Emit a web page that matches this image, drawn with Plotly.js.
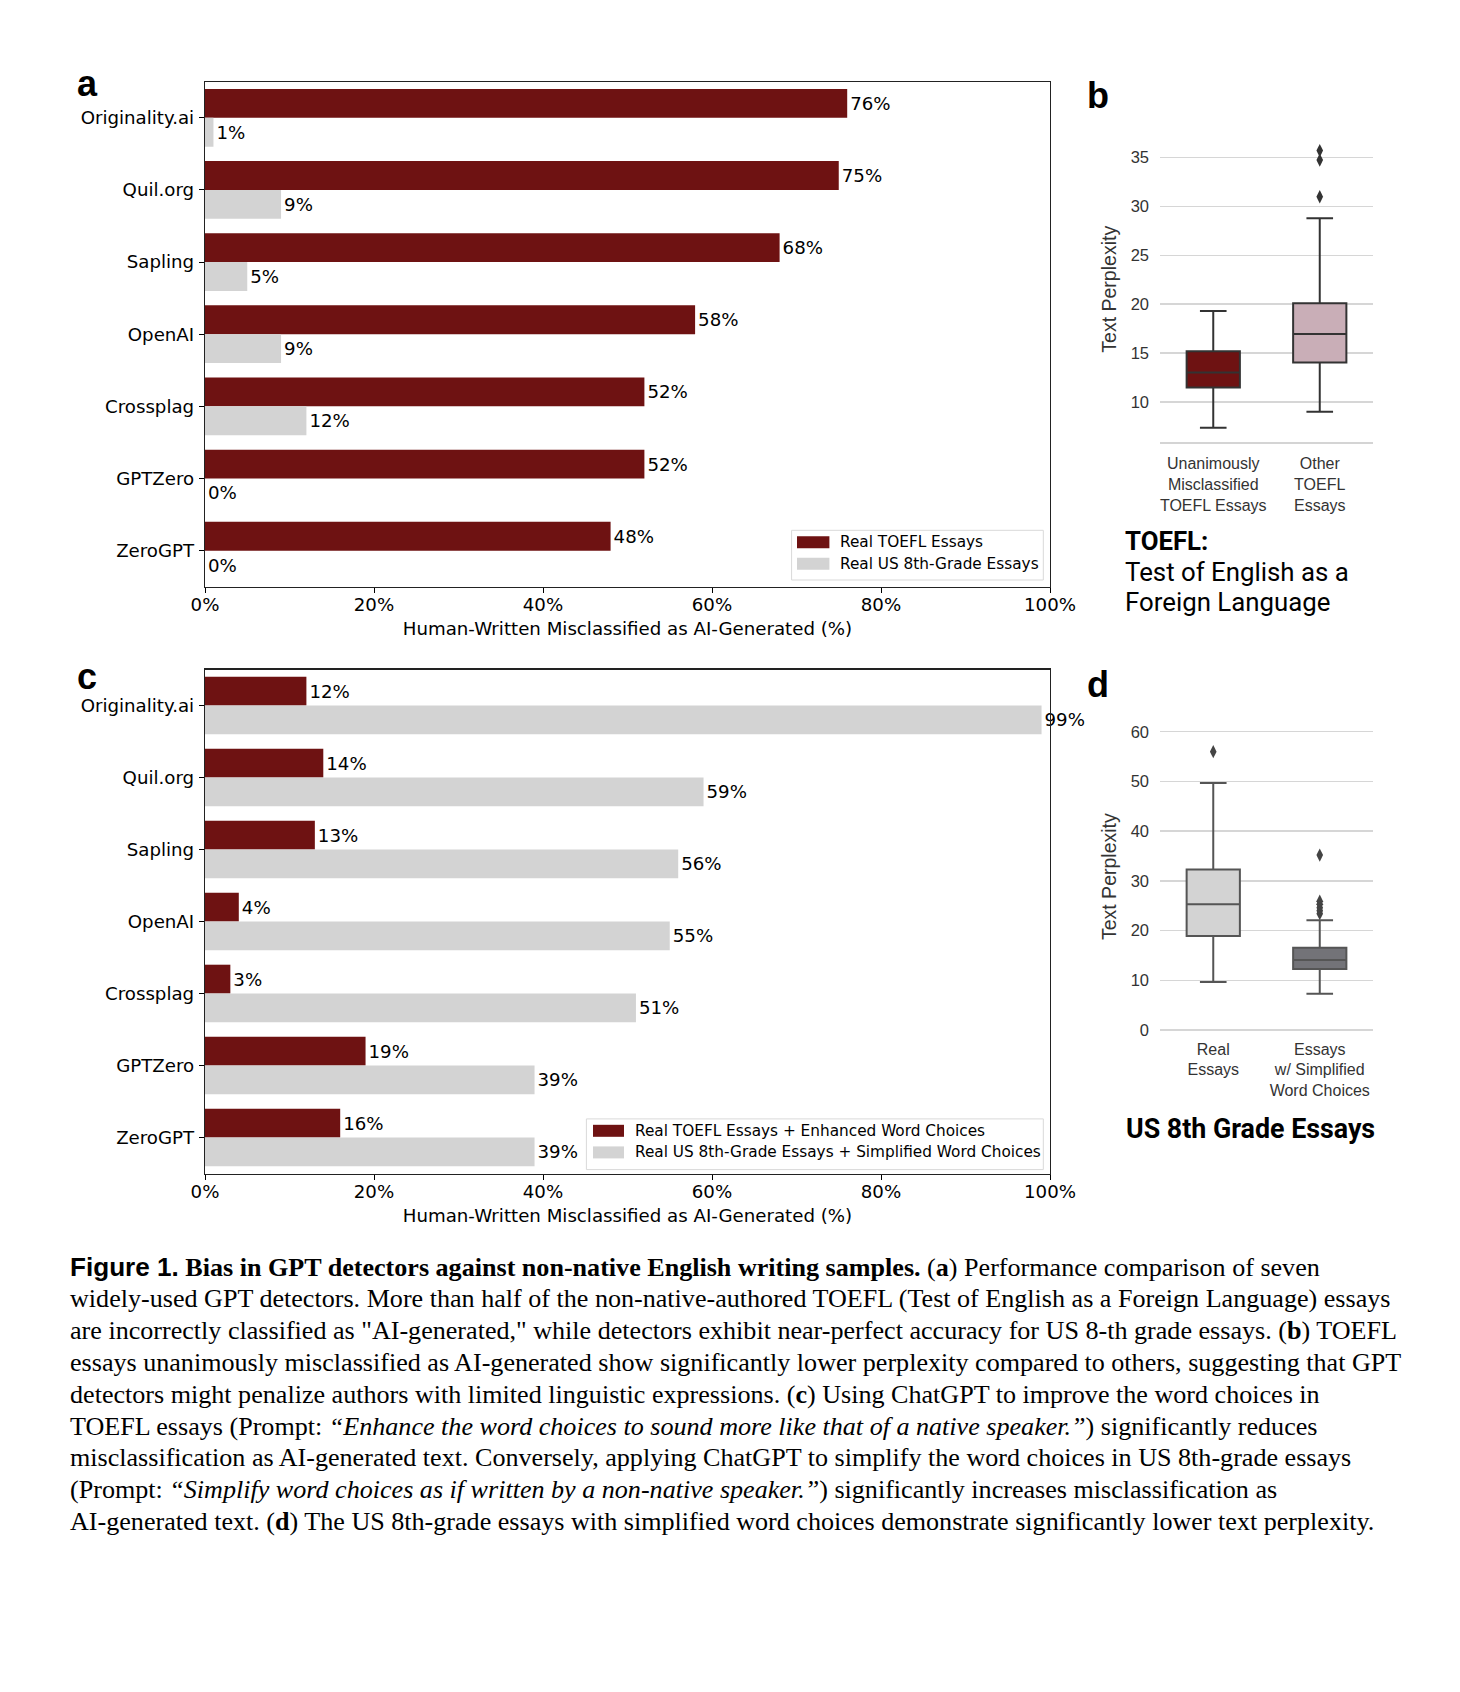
<!DOCTYPE html>
<html><head><meta charset="utf-8">
<script src="https://cdn.plot.ly/plotly-3.0.1.min.js"></script>
<style>html,body{margin:0;padding:0;background:#fff}#chart{width:1460px;height:1692px}</style>
</head><body><div id="chart"></div>
<script>
// ---------------- data ----------------
const detectors = ["Originality.ai","Quil.org","Sapling","OpenAI","Crossplag","GPTZero","ZeroGPT"];
const seriesA = ["Real TOEFL Essays","Real US 8th-Grade Essays"];
const toeflReal = [76,75,68,58,52,52,48];
const us8Real = [1,9,5,9,12,0,0];
const seriesC = ["Real TOEFL Essays + Enhanced Word Choices","Real US 8th-Grade Essays + Simplified Word Choices"];
const toeflEnhanced = [12,14,13,4,3,19,16];
const us8Simplified = [99,59,56,55,51,39,39];
const pctTicks = [0,20,40,60,80,100];
const pctTickText = ["0%","20%","40%","60%","80%","100%"];
const xTitle = "Human-Written Misclassified as AI-Generated (%)";

const boxBCats = ["Unanimously<br>Misclassified<br>TOEFL Essays","Other<br>TOEFL<br>Essays"];
const boxBQ1 = [11.46, 14.02];
const boxBMedian = [12.99, 16.93];
const boxBQ3 = [15.18, 20.10];
const boxBLow = [7.34, 8.98];
const boxBHigh = [19.31, 28.80];
const boxBOutliersOther = [31.0, 34.75, 35.73];
const boxBTicks = [10,15,20,25,30,35];

const boxDCats = ["Real<br>Essays","Essays<br>w/ Simplified<br>Word Choices"];
const boxDQ1 = [18.9, 12.27];
const boxDMedian = [25.3, 14.08];
const boxDQ3 = [32.3, 16.55];
const boxDLow = [9.65, 7.3];
const boxDHigh = [49.7, 22.1];
const boxDOutliersReal = [56.0];
const boxDOutliersSimplified = [23.4, 24.0, 24.6, 25.3, 25.9, 35.2];
const boxDTicks = [0,10,20,30,40,50,60];
const yTitleBox = "Text Perplexity";

const toeflNote = ["<b>TOEFL:</b>","Test of English as a","Foreign Language"];
const usTitle = "<b>US 8th Grade Essays</b>";
const panelLetters = ["a","b","c","d"];
const captionLines = [
 '<b><span style="font-family:\'Liberation Sans\',Arial,sans-serif">Figure 1.</span> Bias in GPT detectors against non-native English writing samples.</b> (<b>a</b>) Performance comparison of seven',
 'widely-used GPT detectors. More than half of the non-native-authored TOEFL (Test of English as a Foreign Language) essays',
 'are incorrectly classified as "AI-generated," while detectors exhibit near-perfect accuracy for US 8-th grade essays. (<b>b</b>) TOEFL',
 'essays unanimously misclassified as AI-generated show significantly lower perplexity compared to others, suggesting that GPT',
 'detectors might penalize authors with limited linguistic expressions. (<b>c</b>) Using ChatGPT to improve the word choices in',
 'TOEFL essays (Prompt: <i>“Enhance the word choices to sound more like that of a native speaker.”</i>) significantly reduces',
 'misclassification as AI-generated text. Conversely, applying ChatGPT to simplify the word choices in US 8th-grade essays',
 '(Prompt: <i>“Simplify word choices as if written by a non-native speaker.”</i>) significantly increases misclassification as',
 'AI-generated text. (<b>d</b>) The US 8th-grade essays with simplified word choices demonstrate significantly lower text perplexity.'
];

// ---------------- styles ----------------
const W = 1460, H = 1692;
const px = x => x / W;
const py = y => 1 - y / H;
const RED = "#6E1212";
const GRAY = "#D3D3D3";
const SANS = "DejaVu Sans";
const ARIAL = "Liberation Sans";
const tf = {family: SANS, size: 18.2, color: "#000"};

function barTrace(vals, name, color, xa, ya) {
  return {type: "bar", orientation: "h", y: detectors, x: vals, name: name,
    marker: {color: color, line: {width: 0}}, text: vals.map(v => v + "%"),
    textposition: "outside", textfont: tf, cliponaxis: false, constraintext: "none",
    xaxis: xa, yaxis: ya, showlegend: false, hoverinfo: "skip"};
}
function boxTrace(cat, q1, med, q3, lo, hi, fill, lineCol, xa, ya) {
  return {type: "box", orientation: "v", x: [cat], q1: [q1], median: [med], q3: [q3],
    lowerfence: [lo], upperfence: [hi], fillcolor: fill, line: {color: lineCol, width: 2},
    width: 0.5, whiskerwidth: 0.5, boxpoints: false, showlegend: false,
    xaxis: xa, yaxis: ya, hoverinfo: "skip"};
}
function outlierTrace(cat, vals, col, xa, ya) {
  return {type: "scatter", mode: "markers", x: vals.map(() => cat), y: vals,
    marker: {symbol: "diamond-tall", size: 9.5, color: col}, showlegend: false,
    xaxis: xa, yaxis: ya, hoverinfo: "skip"};
}

const traces = [
  barTrace(toeflReal, seriesA[0], RED, "x", "y"),
  barTrace(us8Real, seriesA[1], GRAY, "x", "y"),
  barTrace(toeflEnhanced, seriesC[0], RED, "x3", "y3"),
  barTrace(us8Simplified, seriesC[1], GRAY, "x3", "y3"),
  boxTrace(boxBCats[0], boxBQ1[0], boxBMedian[0], boxBQ3[0], boxBLow[0], boxBHigh[0], "#6E1212", "#333333", "x2", "y2"),
  boxTrace(boxBCats[1], boxBQ1[1], boxBMedian[1], boxBQ3[1], boxBLow[1], boxBHigh[1], "#C9AEB7", "#333333", "x2", "y2"),
  outlierTrace(boxBCats[1], boxBOutliersOther, "#333333", "x2", "y2"),
  boxTrace(boxDCats[0], boxDQ1[0], boxDMedian[0], boxDQ3[0], boxDLow[0], boxDHigh[0], "#D3D3D3", "#555555", "x4", "y4"),
  boxTrace(boxDCats[1], boxDQ1[1], boxDMedian[1], boxDQ3[1], boxDLow[1], boxDHigh[1], "#737378", "#555555", "x4", "y4"),
  outlierTrace(boxDCats[0], boxDOutliersReal, "#444444", "x4", "y4"),
  outlierTrace(boxDCats[1], boxDOutliersSimplified, "#444444", "x4", "y4")
];

function barX(domain, anchor) {
  return {domain: domain, anchor: anchor, range: [0, 100], tickvals: pctTicks, ticktext: pctTickText,
    ticks: "outside", ticklen: 5, tickcolor: "#000", showline: true, mirror: true,
    linecolor: "#222", linewidth: 1.2, showgrid: false, zeroline: false, tickfont: tf,
    ticklabelstandoff: -4, fixedrange: true,
    title: {text: xTitle, font: tf, standoff: 8}};
}
function barY(domain, anchor) {
  return {domain: domain, anchor: anchor, type: "category", categoryarray: detectors,
    categoryorder: "array", range: [6.5, -0.5], autorange: false,
    ticks: "outside", ticklen: 5, tickcolor: "#000", showline: true, mirror: true,
    linecolor: "#222", linewidth: 1.2, showgrid: false, zeroline: false, tickfont: tf,
    ticklabelstandoff: 1, fixedrange: true};
}
const boxTickFont = {family: ARIAL, size: 16, color: "#333"};
function boxX(domain, anchor, cats, showLine) {
  return {domain: domain, anchor: anchor, type: "category", categoryarray: cats,
    categoryorder: "array", range: [-0.5, 1.5], autorange: false, ticks: "",
    showline: showLine, linecolor: "#D4D4D4", linewidth: 1.6, showgrid: false,
    zeroline: false, tickfont: boxTickFont, ticklabelstandoff: 6, fixedrange: true};
}
function boxY(domain, anchor, range, ticks) {
  return {domain: domain, anchor: anchor, range: range, autorange: false, tickvals: ticks,
    ticks: "", showline: false, showgrid: true, gridcolor: "#D6D6D6", gridwidth: 1.5,
    zeroline: false, tickfont: {family: ARIAL, size: 16.5, color: "#333"},
    ticklabelstandoff: 10, fixedrange: true,
    title: {text: yTitleBox, font: {family: ARIAL, size: 19.5, color: "#333"}, standoff: 8}};
}

const annotations = [];
const shapes = [];
function ann(text, x, y, xanchor, font, extra) {
  annotations.push(Object.assign({text: text, x: px(x), y: py(y), xref: "paper", yref: "paper",
    xanchor: xanchor, yanchor: "middle", showarrow: false, font: font, align: "left"}, extra || {}));
}
function rect(x0, y0, x1, y1, fill, lineCol, lw) {
  shapes.push({type: "rect", xref: "paper", yref: "paper", x0: px(x0), x1: px(x1),
    y0: py(y1), y1: py(y0), fillcolor: fill, line: {color: lineCol, width: lw}, layer: "above"});
}
// legend boxes built from the series names and colours
const legFont = {family: SANS, size: 15.3, color: "#000"};
function legendBlock(names, colors, box, rows, patchX, textX) {
  rect(box[0], box[1], box[2], box[3], "#FFFFFF", "#D9D9D9", 1);
  names.forEach((n, i) => {
    rect(patchX[0], rows[i] - 6, patchX[1], rows[i] + 6, colors[i], "rgba(0,0,0,0)", 0);
    ann(n, textX, rows[i], "left", legFont);
  });
}
legendBlock(seriesA, [RED, GRAY], [791.6, 530.3, 1043.3, 580], [542.2, 563.8], [797, 829.4], 837.5);
legendBlock(seriesC, [RED, GRAY], [586.4, 1118.9, 1043.3, 1169.6], [1130.8, 1152.4], [593, 624], 632.5);

const letterFont = {family: ARIAL, size: 36, color: "#000"};
ann("<b>" + panelLetters[0] + "</b>", 75, 83, "left", letterFont);
ann("<b>" + panelLetters[1] + "</b>", 1085, 96, "left", letterFont);
ann("<b>" + panelLetters[2] + "</b>", 75, 676, "left", letterFont);
ann("<b>" + panelLetters[3] + "</b>", 1085, 684, "left", letterFont);
const noteFont = {family: "Roboto", size: 25.8, color: "#000"};
[541, 572, 601.5].forEach((y, i) => ann(toeflNote[i], 1123, y, "left", noteFont));
ann(usTitle, 1250, 1128.5, "center", {family: "Roboto", size: 26.8, color: "#000"});
const capFont = {family: "Liberation Serif", size: 26.1, color: "#000"};
captionLines.forEach((t, i) => ann(t, 68, 1267 + i * 31.8, "left", capFont));

const layout = {
  width: W, height: H, margin: {l: 0, r: 0, t: 0, b: 0},
  paper_bgcolor: "#fff", plot_bgcolor: "#fff",
  font: {family: SANS, color: "#000"},
  barmode: "group", bargap: 0.2, bargroupgap: 0, boxmode: "overlay",
  showlegend: false,
  xaxis: barX([px(205), px(1050)], "y"),
  yaxis: barY([py(586.7), py(81.7)], "x"),
  xaxis3: barX([px(205), px(1050)], "y3"),
  yaxis3: barY([py(1173.5), py(669.5)], "x3"),
  xaxis2: boxX([px(1160), px(1373)], "y2", boxBCats, true),
  yaxis2: boxY([py(442.3), py(136.2)], "x2", [5.85, 37.2], boxBTicks),
  xaxis4: boxX([px(1160), px(1373)], "y4", boxDCats, false),
  yaxis4: boxY([py(1031.5), py(721.8)], "x4", [-0.3, 62], boxDTicks),
  shapes: shapes,
  annotations: annotations
};

Plotly.newPlot("chart", traces, layout, {staticPlot: true, displayModeBar: false});
</script>
</body></html>
